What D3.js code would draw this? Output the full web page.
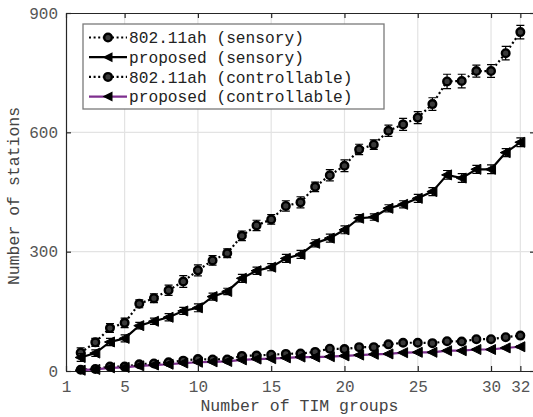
<!DOCTYPE html>
<html>
<head>
<meta charset="utf-8">
<title>Number of stations vs TIM groups</title>
<script src="https://cdn.jsdelivr.net/npm/d3@7/dist/d3.min.js"></script>
<style>
  body { margin: 0; background: #fff; }
  text { font-family: "Liberation Mono", "Courier New", monospace; }
</style>
</head>
<body>
<script>
// data
var groups = d3.range(2, 33);   // 2..32 TIM groups
var xTicks = [1, 5, 10, 15, 20, 25, 30, 32];
var yTicks = [0, 300, 600, 900];

var ahSensory   = [46,72,108,121,169,183,203,225,253,278,296,340,366,381,415,424,463,492,516,557,569,604,620,637,671,728,729,754,754,799,852];
var ahSensoryErr = [12,10,11,12,10,11,13,15,14,12,11,12,13,12,13,14,12,14,15,13,12,14,15,15,16,18,17,15,16,17,17];
var propSensory = [34,45,73,82,114,125,135,151,159,187,200,233,252,261,283,293,321,334,355,384,387,409,419,434,451,493,485,507,507,549,575];
var propSensoryErr = [10,8,9,9,8,8,9,9,10,9,8,10,9,9,10,10,9,10,10,9,8,9,9,10,10,11,11,10,11,10,11];
var ahCtrl   = [3,5,11,11,17,19,22,26,30,29,29,38,39,41,43,44,48,56,55,60,60,67,71,71,70,75,74,80,80,85,89];
var ahCtrlErr = [2,2,3,3,3,3,3,3,3,3,3,3,3,3,3,3,3,3,3,3,3,3,3,3,3,3,3,3,3,3,4];
var propCtrl = [2,4,8,9,13,15,17,20,22,23,24,28,30,31,33,35,35,36,38,40,42,43,46,47,47,51,51,54,54,58,61];
var propCtrlErr = [2,2,2,2,2,2,2,2,2,2,2,2,2,2,2,2,2,2,2,2,2,2,2,2,2,2,2,2,2,2,3];

var seriesNames = ["802.11ah (sensory)", "proposed (sensory)", "802.11ah (controllable)", "proposed (controllable)"];

var width = 533, height = 417;
var mLeft = 66, mRight = 535, mTop = 13, mBottom = 371;

var svg = d3.select("body").append("svg")
  .attr("width", width)
  .attr("height", height);

var x = d3.scaleLinear().domain([1, 33]).range([mLeft, mRight]);
var y = d3.scaleLinear().domain([0, 900]).range([mBottom, mTop]);

// grid
svg.append("g").selectAll("line").data(xTicks.slice(1)).join("line")
  .attr("x1", d => x(d)).attr("x2", d => x(d))
  .attr("y1", mTop).attr("y2", mBottom)
  .attr("stroke", "#e3e3e3").attr("stroke-width", 1.2);
svg.append("g").selectAll("line").data(yTicks.slice(1, 3)).join("line")
  .attr("x1", mLeft).attr("x2", mRight)
  .attr("y1", d => y(d)).attr("y2", d => y(d))
  .attr("stroke", "#e3e3e3").attr("stroke-width", 1.2);

// axes (ticks pointing inward, box on)
function styleAxis(g) {
  g.selectAll(".domain").attr("stroke", "#262626").attr("stroke-width", 1.2);
  g.selectAll(".tick line").attr("stroke", "#262626").attr("stroke-width", 1.2);
  g.selectAll(".tick text").attr("fill", "#555").attr("font-size", 16)
    .attr("font-family", "Liberation Mono, monospace");
}
svg.append("g").attr("transform", "translate(0," + mBottom + ")")
  .call(d3.axisBottom(x).tickValues(xTicks).tickSizeInner(-5).tickSizeOuter(0).tickPadding(10))
  .call(styleAxis);
svg.append("g").attr("transform", "translate(0," + mTop + ")")
  .call(d3.axisTop(x).tickValues(xTicks).tickSizeInner(-5).tickSizeOuter(0).tickFormat(""))
  .call(styleAxis);
svg.append("g").attr("transform", "translate(" + mLeft + ",0)")
  .call(d3.axisLeft(y).tickValues(yTicks).tickSizeInner(-5).tickSizeOuter(0).tickPadding(8))
  .call(styleAxis);
svg.append("g").attr("transform", "translate(" + mRight + ",0)")
  .call(d3.axisRight(y).tickValues(yTicks).tickSizeInner(-5).tickSizeOuter(0).tickFormat(""))
  .call(styleAxis);

// axis titles
svg.append("text")
  .attr("x", (mLeft + 533) / 2).attr("y", 411)
  .attr("text-anchor", "middle").attr("font-size", 16.5).attr("fill", "#444")
  .text("Number of TIM groups");
svg.append("text")
  .attr("transform", "translate(19," + ((mTop + mBottom) / 2 + 4) + ") rotate(-90)")
  .attr("text-anchor", "middle").attr("font-size", 16.5).attr("fill", "#444")
  .text("Number of stations");

var triPath = "M-5.5,0L4.5,-5L4.5,5Z";

function drawSeries(vals, errs, color, dash, marker) {
  var g = svg.append("g");
  var pts = groups.map((d, i) => ({x: d, v: vals[i], e: errs[i]}));
  // error bars
  g.selectAll(".eb").data(pts).join("path")
    .attr("d", d => "M" + (x(d.x) - 4) + "," + y(d.v + d.e) + "H" + (x(d.x) + 4) +
      "M" + x(d.x) + "," + y(d.v + d.e) + "V" + y(d.v - d.e) +
      "M" + (x(d.x) - 4) + "," + y(d.v - d.e) + "H" + (x(d.x) + 4))
    .attr("fill", "none").attr("stroke", "#000").attr("stroke-width", 1.2);
  g.append("path").datum(pts)
    .attr("d", d3.line().x(d => x(d.x)).y(d => y(d.v)))
    .attr("fill", "none").attr("stroke", color).attr("stroke-width", 2.2)
    .attr("stroke-dasharray", dash);
  if (marker === "circle") {
    g.selectAll(".m").data(pts).join("circle")
      .attr("cx", d => x(d.x)).attr("cy", d => y(d.v)).attr("r", 3.8)
      .attr("fill", "#3a3a3a").attr("stroke", "#000").attr("stroke-width", 2.4);
  } else {
    g.selectAll(".m").data(pts).join("path")
      .attr("transform", d => "translate(" + x(d.x) + "," + y(d.v) + ")")
      .attr("d", triPath).attr("fill", "#000").attr("stroke", "#000").attr("stroke-width", 1);
  }
}

drawSeries(ahSensory, ahSensoryErr, "#000", "2,2.6", "circle");
drawSeries(propSensory, propSensoryErr, "#000", null, "tri");
drawSeries(ahCtrl, ahCtrlErr, "#000", "2,2.6", "circle");
drawSeries(propCtrl, propCtrlErr, "#7e2f8e", null, "tri");

// legend
var legend = svg.append("g");
legend.append("rect")
  .attr("x", 83).attr("y", 24).attr("width", 301).attr("height", 85)
  .attr("fill", "#fff").attr("stroke", "#7a7a7a").attr("stroke-width", 1.3);
var legStyles = [
  {color: "#000", dash: "2,2.6", marker: "circle"},
  {color: "#000", dash: null, marker: "tri"},
  {color: "#000", dash: "2,2.6", marker: "circle"},
  {color: "#7e2f8e", dash: null, marker: "tri"}
];
seriesNames.forEach(function(name, i) {
  var ly = 37.5 + i * 19.7;
  var s = legStyles[i];
  legend.append("line")
    .attr("x1", 89).attr("x2", 127).attr("y1", ly).attr("y2", ly)
    .attr("stroke", s.color).attr("stroke-width", 2.2).attr("stroke-dasharray", s.dash);
  if (s.marker === "circle") {
    legend.append("circle").attr("cx", 108).attr("cy", ly).attr("r", 3.8)
      .attr("fill", "#3a3a3a").attr("stroke", "#000").attr("stroke-width", 2.4);
  } else {
    legend.append("path").attr("transform", "translate(108," + ly + ")")
      .attr("d", triPath).attr("fill", "#000");
  }
  legend.append("text")
    .attr("x", 129).attr("y", ly).attr("dy", "0.35em")
    .attr("font-size", 16.2).attr("fill", "#222")
    .text(name);
});
</script>
</body>
</html>
